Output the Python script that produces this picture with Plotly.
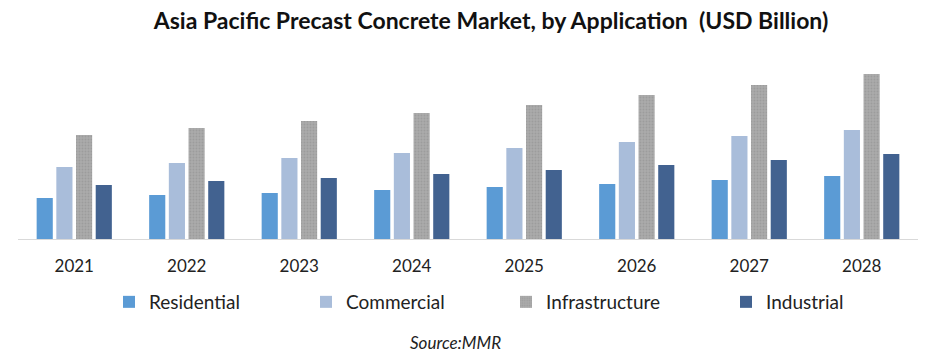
import plotly.graph_objects as go

years = ["2021", "2022", "2023", "2024", "2025", "2026", "2027", "2028"]
residential = [4.1, 4.4, 4.6, 4.9, 5.2, 5.5, 5.9, 6.3]
commercial = [7.2, 7.6, 8.1, 8.6, 9.1, 9.7, 10.3, 10.9]
infrastructure = [10.4, 11.1, 11.8, 12.6, 13.4, 14.4, 15.4, 16.5]
industrial = [5.4, 5.8, 6.1, 6.5, 6.9, 7.4, 7.9, 8.5]

series_names = ["Residential", "Commercial", "Infrastructure", "Industrial"]
series_values = [residential, commercial, infrastructure, industrial]
colors = ["#5B9BD5", "#A9BDDA", "#A8A8A8", "#426290"]
legend_ids = ["legend", "legend2", "legend3", "legend4"]
legend_px = [130, 327, 527, 747]  # left edge of legend squares

W, H = 941, 360
PLOT_L, PLOT_R, PLOT_T, PLOT_B = 18, 918, 60, 239
FONT = "Lato"

fig = go.Figure()
for name, vals, col, lid in zip(series_names, series_values, colors, legend_ids):
    marker = dict(color=col, line=dict(width=0))
    if name == "Infrastructure":
        marker["pattern"] = dict(shape=".", fgcolor="#9C9C9C", bgcolor="#ABABAB",
                                 size=3, solidity=0.3, fillmode="replace")
    fig.add_trace(go.Bar(
        x=years, y=vals, name=name, legend=lid,
        marker=marker,
        hoverinfo="x+y+name",
    ))

legend_common = dict(
    orientation="h", xref="container", yref="container",
    yanchor="middle", xanchor="left", y=1 - 302 / H,
    font=dict(family=FONT, size=19, color="#222222"),
    bgcolor="rgba(0,0,0,0)", borderwidth=0, itemwidth=30,
)
legends = {}
for lid, px in zip(legend_ids, legend_px):
    legends[lid] = dict(legend_common, x=(px - 21) / W)

fig.update_layout(
    width=W, height=H,
    paper_bgcolor="white", plot_bgcolor="white",
    margin=dict(l=PLOT_L, r=W - PLOT_R, t=PLOT_T, b=H - PLOT_B, pad=0,
                autoexpand=False),
    barmode="group", bargap=0.3, bargroupgap=0.18,
    font=dict(family=FONT, color="#222222"),
    title=dict(
        text="<b>Asia Pacific Precast Concrete Market, by Application&nbsp;&nbsp;(USD Billion)</b>",
        x=491 / W, xref="container", xanchor="center",
        y=1 - 21 / H, yref="container", yanchor="middle",
        font=dict(family=FONT, size=23, color="#111111"),
    ),
    xaxis=dict(
        showline=True, linecolor="#D9D9D9", linewidth=1,
        showgrid=False, ticks="", zeroline=False,
        tickfont=dict(family=FONT, size=17, color="#222222"),
        ticklabelstandoff=12,
    ),
    yaxis=dict(
        range=[0, 17.9], visible=False, showgrid=False, zeroline=False,
    ),
    showlegend=True,
    annotations=[dict(
        text="<i>Source:MMR</i>",
        x=(455 - PLOT_L) / (PLOT_R - PLOT_L),
        y=(PLOT_B - 342) / (PLOT_B - PLOT_T),
        xref="paper", yref="paper", showarrow=False,
        xanchor="center", yanchor="middle",
        font=dict(family=FONT, size=17, color="#222222"),
    )],
    **legends,
)

fig.write_html("out.html",
               config={"displayModeBar": False},
               post_script="document.body.style.margin='0';document.body.style.overflow='hidden';")
